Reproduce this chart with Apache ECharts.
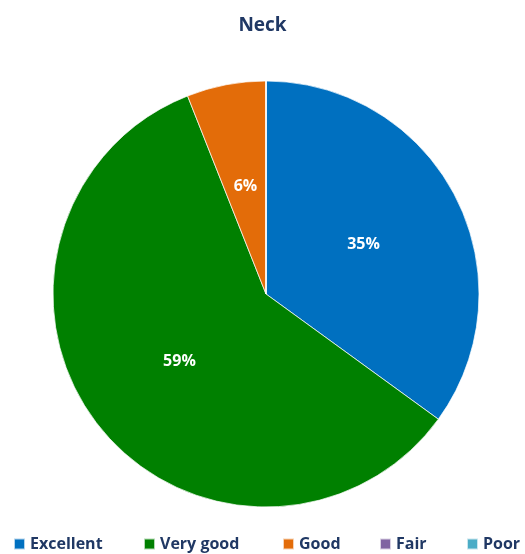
<!DOCTYPE html>
<html><head><meta charset="utf-8">
<script src="https://cdn.jsdelivr.net/npm/echarts@6/dist/echarts.min.js"></script>
<style>html,body{margin:0;padding:0;background:#fff}#c{width:525px;height:554px}</style>
</head><body><div id="c"></div>
<script>
const categories = ['Excellent', 'Very good', 'Good', 'Fair', 'Poor'];
const values = [35, 59, 6, 0, 0];
const colors = ['#0070C0', '#008000', '#E36C09', '#8064A2', '#4BACC6'];
const titleText = 'Neck';

const font = 'Open Sans, Noto Sans, sans-serif';
const textColor = '#203864';
const legendLefts = [8, 138, 277, 374, 461];

const chart = echarts.init(document.getElementById('c'));
chart.setOption({
  animation: false,
  title: { text: titleText, left: 'center', top: 11,
    textStyle: { fontFamily: font, fontSize: 19, fontWeight: 'bold', color: textColor } },
  legend: categories.map((c, i) => ({
    data: [c], left: legendLefts[i], top: 531, itemWidth: 11, itemHeight: 11, icon: 'rect', itemGap: 6,
    textStyle: { fontFamily: font, fontSize: 16, fontWeight: 'bold', color: textColor }
  })),
  series: [{
    type: 'pie', center: [266, 294], radius: 213, startAngle: 90, clockwise: true,
    avoidLabelOverlap: false,
    data: categories.map((c, i) => ({ name: c, value: values[i], itemStyle: { color: colors[i] } })),
    itemStyle: { borderColor: 'rgba(255,255,255,0.7)', borderWidth: 1 },
    label: { show: true, position: 'inside', fontFamily: font, fontSize: 16, fontWeight: 'bold', color: '#fff',
      formatter: p => p.value > 0 ? Math.round(p.percent) + '%' : '' },
    labelLine: { show: false },
    emphasis: { disabled: true }
  }]
});
</script></body></html>
